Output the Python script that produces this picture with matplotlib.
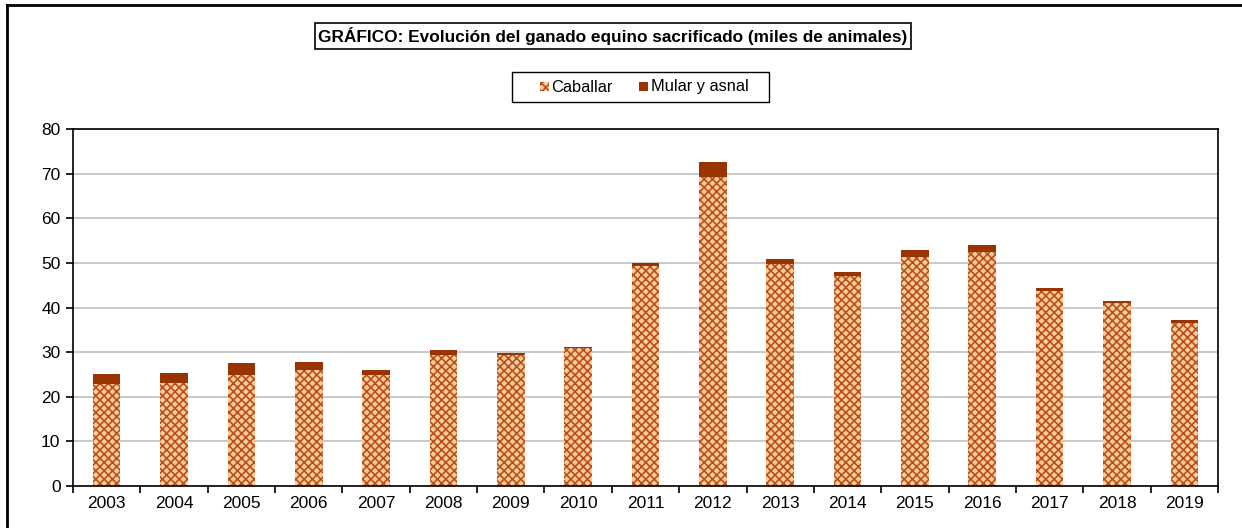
import matplotlib.pyplot as plt
import numpy as np
from matplotlib.lines import Line2D
from matplotlib.patches import Rectangle

plt.rcParams['font.family'] = ['Liberation Sans', 'DejaVu Sans']
plt.rcParams['hatch.linewidth'] = 1.2

years = ["2003", "2004", "2005", "2006", "2007", "2008", "2009", "2010", "2011",
         "2012", "2013", "2014", "2015", "2016", "2017", "2018", "2019"]
caballar = [22.9, 23.0, 24.9, 26.0, 24.9, 29.4, 29.3, 31.0, 49.3,
            69.3, 49.7, 47.1, 51.4, 52.5, 43.8, 41.1, 36.5]
mular_asnal = [2.2, 2.4, 2.6, 1.7, 1.2, 1.1, 0.4, 0.2, 0.6,
               3.2, 1.2, 0.9, 1.5, 1.4, 0.6, 0.4, 0.7]
series_names = ["Caballar", "Mular y asnal"]

hatch_col = "#B8501E"
peach = "#FFCC99"
mular_col = "#993300"

W, H = 1242, 528
fig = plt.figure(figsize=(W / 100, H / 100), dpi=100)
ax = fig.add_axes([73 / W, 1 - 486 / H, (1218 - 73) / W, (486 - 129) / H])

x = np.arange(len(years))
ax.bar(x, caballar, width=0.41, color=peach, edgecolor=hatch_col, hatch="xxxx",
       linewidth=0, zorder=2)
ax.bar(x, mular_asnal, width=0.41, bottom=caballar, color=mular_col, linewidth=0, zorder=2)

ax.set_xlim(-0.5, len(years) - 0.5)
ax.set_ylim(0, 80)
ax.set_yticks(range(0, 81, 10))
ax.yaxis.grid(True, color="#C0C0C0", linewidth=1.2, zorder=0)
ax.set_axisbelow(True)

ax.set_xticks(x)
ax.set_xticklabels(years)
ax.set_xticks(np.arange(-0.5, len(years), 1), minor=True)
ax.tick_params(axis="x", which="major", length=0, labelsize=12.5, pad=7)
ax.tick_params(axis="x", which="minor", length=5, width=1.2, direction="out")
ax.tick_params(axis="y", length=5, width=1.2, direction="out", labelsize=12.5, pad=4)
for s in ax.spines.values():
    s.set_linewidth(1.2)

# titulo en recuadro
fig.text(613 / W, 1 - 36 / H,
         "GRÁFICO: Evolución del ganado equino sacrificado (miles de animales)",
         ha="center", va="center", fontsize=12.4, fontweight="bold",
         bbox=dict(boxstyle="square,pad=0.22", facecolor="white", edgecolor="black", linewidth=1.2))

# leyenda dibujada a mano (para alinear los textos)
def fig_rect(x0, y0, x1, y1, **kw):
    fig.add_artist(Rectangle((x0 / W, 1 - y1 / H), (x1 - x0) / W, (y1 - y0) / H,
                             transform=fig.transFigure, **kw))

fig_rect(512, 72, 769, 101.5, facecolor="white", edgecolor="black", linewidth=1.0)
fig_rect(540, 82, 549, 91, facecolor=peach, edgecolor=hatch_col, hatch="xxxx", linewidth=0)
fig_rect(639, 82, 648, 91, facecolor=mular_col, linewidth=0)
fig.text(551 / W, 1 - 91.5 / H, series_names[0], fontsize=11.8, va="baseline")
fig.text(651 / W, 1 - 91.5 / H, series_names[1], fontsize=11.8, va="baseline")

# marco exterior
fig.add_artist(Line2D([7 / W, 1], [1 - 5 / H, 1 - 5 / H], color="black", linewidth=2))
fig.add_artist(Line2D([7 / W, 7 / W], [0, 1 - 5 / H], color="black", linewidth=2))

fig.savefig("out.png", dpi=100)
